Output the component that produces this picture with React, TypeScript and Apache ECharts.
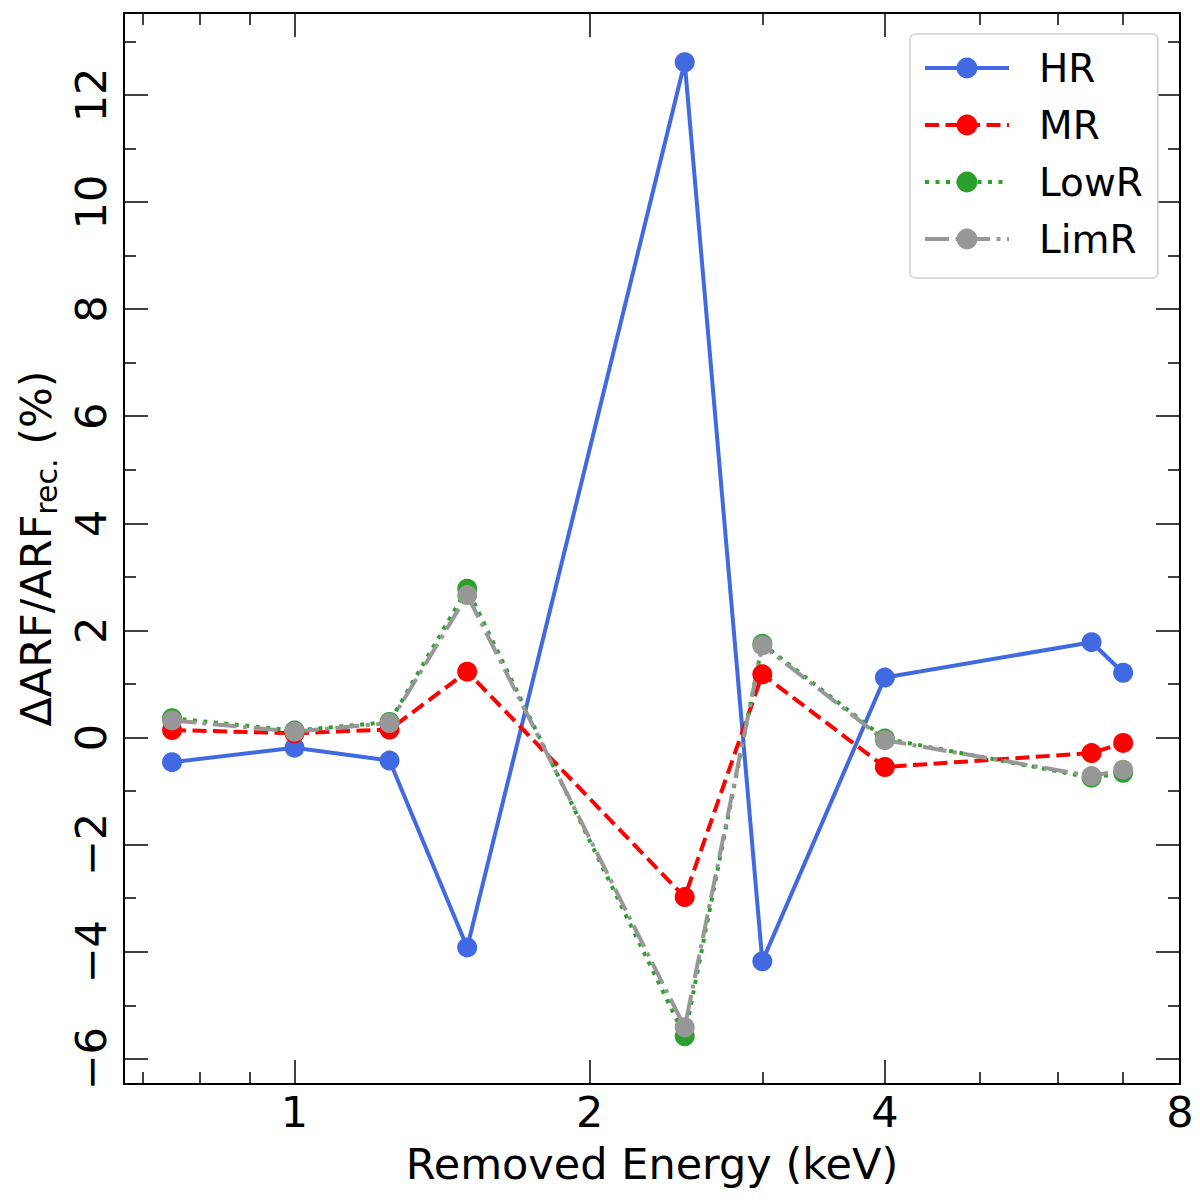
import { useEffect, useRef } from "react";
import * as echarts from "echarts";

// energie retirée (keV) et écart relatif de l'ARF (%) pour chaque configuration
const ENERGY_KEV = [0.75, 1, 1.25, 1.5, 2.5, 3, 4, 6.5, 7];
const HR = [-0.46, -0.19, -0.43, -3.92, 12.61, -4.18, 1.12, 1.78, 1.21];
const MR = [0.14, 0.08, 0.15, 1.23, -2.98, 1.18, -0.55, -0.29, -0.1];
const LOWR = [0.36, 0.13, 0.29, 2.78, -5.58, 1.75, -0.02, -0.75, -0.66];
const LIMR = [0.32, 0.11, 0.27, 2.66, -5.41, 1.72, -0.05, -0.72, -0.6];

const X_MAJOR = [1, 2, 4, 8];
const X_MINOR = [0.7, 0.8, 0.9, 3, 5, 6, 7];
const Y_MAJOR = [-6, -4, -2, 0, 2, 4, 6, 8, 10, 12];
const Y_MINOR = [-5, -3, -1, 1, 3, 5, 7, 9, 11, 13];

const X_MIN = 0.67;
const X_MAX = 8;
const Y_MIN = -6.47;
const Y_MAX = 13.53;

const FONT = "DejaVu Sans";
const INK = "#000";
const LINE_W = 4;

const SERIES = [
  { name: "HR", values: HR, color: "#4169e1", dash: "solid" as const },
  { name: "MR", values: MR, color: "#ff0000", dash: [14, 6.5] },
  { name: "LowR", values: LOWR, color: "#2ca02c", dash: [4, 6.5] },
  { name: "LimR", values: LIMR, color: "#979797", dash: [24, 6.5, 4, 6.5] },
];

const minus = (v: number) => (v < 0 ? `\u2212${-v}` : `${v}`);

function xAxis(position: "bottom" | "top", ticks: number[], len: number, main: boolean, labels: boolean) {
  return {
    type: "log",
    logBase: 2,
    min: X_MIN,
    max: X_MAX,
    position,
    axisLine: { show: main, onZero: false, lineStyle: { color: INK, width: 2 } },
    axisTick: { inside: true, length: len, customValues: ticks, lineStyle: { color: INK, width: 1.5 } },
    axisLabel: labels
      ? { customValues: ticks, margin: 6, color: INK, fontSize: 43, fontFamily: FONT, formatter: (v: number) => `${v}` }
      : { show: false },
    splitLine: { show: false },
    minorTick: { show: false },
    ...(labels
      ? {
          name: "Removed Energy (keV)",
          nameLocation: "middle",
          nameGap: 58,
          nameTextStyle: { color: INK, fontSize: 43, fontFamily: FONT },
        }
      : {}),
  };
}

function yAxis(position: "left" | "right", ticks: number[], len: number, main: boolean, labels: boolean) {
  return {
    type: "value",
    min: Y_MIN,
    max: Y_MAX,
    position,
    axisLine: { show: main, onZero: false, lineStyle: { color: INK, width: 2 } },
    axisTick: { inside: true, length: len, customValues: ticks, lineStyle: { color: INK, width: 1.5 } },
    axisLabel: labels
      ? { customValues: ticks, rotate: 90, margin: 12, color: INK, fontSize: 43, fontFamily: FONT, formatter: minus }
      : { show: false },
    splitLine: { show: false },
    minorTick: { show: false },
    ...(labels
      ? {
          name: "{a|ΔARF/ARF}{s|rec.}{a| (%)}",
          nameLocation: "middle",
          nameGap: 62,
          nameTextStyle: {
            rich: {
              a: { fontSize: 43, lineHeight: 50, color: INK, fontFamily: FONT },
              s: { fontSize: 30, lineHeight: 38, verticalAlign: "bottom", color: INK, fontFamily: FONT },
            },
          },
        }
      : {}),
  };
}

export default function App() {
  const elRef = useRef<HTMLDivElement>(null);

  useEffect(() => {
    document.body.style.margin = "0";
    const el = elRef.current;
    if (!el) return;
    const chart = echarts.init(el, undefined, { renderer: "svg" });

    chart.setOption({
      animation: false,
      backgroundColor: "#fff",
      grid: { left: 124, right: 20, top: 13, bottom: 116 },
      xAxis: [
        xAxis("bottom", X_MAJOR, 24, true, true),
        xAxis("bottom", X_MINOR, 12, false, false),
        xAxis("top", X_MAJOR, 24, true, false),
        xAxis("top", X_MINOR, 12, false, false),
      ],
      yAxis: [
        yAxis("left", Y_MAJOR, 24, true, true),
        yAxis("left", Y_MINOR, 12, false, false),
        yAxis("right", Y_MAJOR, 24, true, false),
        yAxis("right", Y_MINOR, 12, false, false),
      ],
      legend: {
        orient: "vertical",
        left: 910,
        top: 34,
        padding: [14, 15, 19, 13],
        itemWidth: 84,
        itemHeight: 26,
        itemGap: 17,
        selectedMode: false,
        backgroundColor: "#fff",
        borderColor: "#d0d0d0",
        borderWidth: 1.5,
        borderRadius: 5,
        lineStyle: { width: LINE_W },
        textStyle: { color: INK, fontSize: 39, fontFamily: FONT, lineHeight: 40, padding: [0, 0, 0, 25] },
        data: SERIES.map((s) => s.name),
      },
      series: SERIES.map((s) => ({
        name: s.name,
        type: "line",
        xAxisIndex: 0,
        yAxisIndex: 0,
        data: ENERGY_KEV.map((e, i) => [e, s.values[i]]),
        symbol: "circle",
        symbolSize: 20,
        showAllSymbol: true,
        itemStyle: { color: s.color },
        lineStyle: { color: s.color, width: LINE_W, type: s.dash },
      })),
    });

    return () => chart.dispose();
  }, []);

  return <div ref={elRef} style={{ width: 1200, height: 1200 }} />;
}
